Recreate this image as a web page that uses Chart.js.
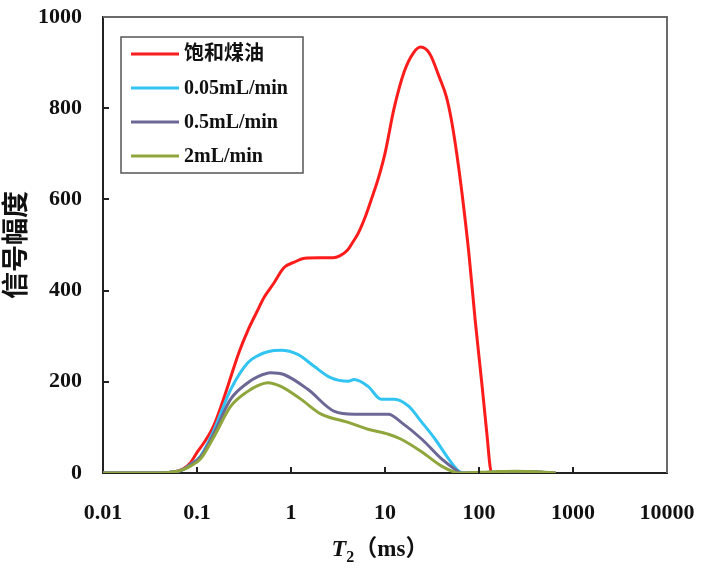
<!DOCTYPE html>
<html lang="zh">
<head>
  <meta charset="UTF-8" />
  <title>T2 谱</title>
  <script src="https://cdn.jsdelivr.net/npm/chart.js"></script>
  <style>
    html, body { margin: 0; padding: 0; background: #fff; }
    .wrap { width: 706px; height: 569px; position: relative; }
  </style>
</head>
<body>
  <div class="wrap">
    <canvas id="t2Chart"></canvas>
  </div>

  <script>
    // series names (legend order)
    const seriesNames = ['饱和煤油', '0.05mL/min', '0.5mL/min', '2mL/min'];
    const seriesColors = ['#fc1c1c', '#31c4f3', '#6c6896', '#8fa63c'];

    // x tick labels (T2, ms)
    const xTicks = [0.01, 0.1, 1, 10, 100, 1000, 10000];
    const yTicks = [0, 200, 400, 600, 800, 1000];

    // 饱和煤油
    const satT2 = [0.01, 0.04, 0.055, 0.07, 0.085, 0.1, 0.12, 0.15, 0.19, 0.23, 0.28, 0.35, 0.43, 0.52, 0.65, 0.84, 1.1, 1.4, 2, 2.8, 3.3, 4, 4.5, 5.2, 6.2, 7.3, 8.6, 10, 12.5, 16, 20, 24, 30, 38, 45, 51, 58, 66, 78, 91, 108, 122, 131, 136, 200, 400, 650];
    const satAmp = [0, 0, 2, 8, 22, 45, 68, 103, 160, 212, 265, 314, 352, 386, 415, 450, 463, 471, 472, 472, 476, 489, 505, 526, 563, 605, 650, 701, 800, 880, 921, 934, 919, 867, 825, 773, 700, 613, 482, 336, 190, 81, 15, 0, 2, 2, 0];

    // 0.05mL/min
    const q005T2 = [0.01, 0.04, 0.055, 0.07, 0.085, 0.109, 0.15, 0.228, 0.347, 0.45, 0.565, 0.78, 1.18, 1.76, 2.64, 4.07, 4.7, 6.6, 9.1, 12.6, 17.7, 24.7, 34.2, 47.5, 61, 70, 200, 400, 650];
    const q005Amp = [0, 0, 2, 7, 18, 37, 92, 183, 242, 258, 266, 269, 260, 234, 209, 201, 205, 190, 162, 162, 147, 111, 74, 31, 4, 0, 2, 2, 0];

    // 0.5mL/min
    const q05T2 = [0.01, 0.04, 0.055, 0.07, 0.085, 0.109, 0.15, 0.228, 0.347, 0.45, 0.61, 0.84, 1.52, 2.9, 4.7, 10.9, 14.9, 24.7, 40, 55, 65, 200, 400, 650];
    const q05Amp = [0, 0, 2, 7, 17, 35, 85, 162, 198, 212, 220, 216, 183, 135, 129, 129, 111, 74, 31, 9, 0, 2, 2, 0];

    // 2mL/min
    const q2T2 = [0.01, 0.04, 0.055, 0.07, 0.085, 0.109, 0.15, 0.228, 0.347, 0.45, 0.565, 0.78, 1.27, 2.1, 4.07, 6.6, 10.9, 14.9, 24.7, 40, 55, 62, 150, 250, 400, 650];
    const q2Amp = [0, 0, 2, 7, 15, 31, 78, 146, 179, 192, 198, 190, 162, 129, 111, 96, 85, 74, 46, 15, 2, 0, 3, 4, 3, 0];

    const seriesT2 = [satT2, q005T2, q05T2, q2T2];
    const seriesAmp = [satAmp, q005Amp, q05Amp, q2Amp];

    const SERIF = '"Liberation Serif", "Times New Roman", "Noto Sans CJK SC", serif';

    // frame, inward tick marks, legend box and x title
    const decorPlugin = {
      id: 'decor',
      afterDraw(chart) {
        const ctx = chart.ctx;
        const area = chart.chartArea;
        const xs = chart.scales.x;
        const ys = chart.scales.y;
        ctx.save();

        // top + right frame
        ctx.strokeStyle = '#6a6a6a';
        ctx.lineWidth = 2;
        ctx.beginPath();
        ctx.moveTo(area.left, area.top);
        ctx.lineTo(area.right, area.top);
        ctx.lineTo(area.right, area.bottom);
        ctx.stroke();

        // tick marks pointing inward
        ctx.strokeStyle = '#222';
        ctx.lineWidth = 2;
        ctx.beginPath();
        xTicks.slice(1, -1).forEach(v => {
          const px = Math.round(xs.getPixelForValue(v));
          ctx.moveTo(px, area.bottom);
          ctx.lineTo(px, area.bottom - 6);
        });
        yTicks.slice(1, -1).forEach(v => {
          const py = Math.round(ys.getPixelForValue(v));
          ctx.moveTo(area.left, py);
          ctx.lineTo(area.left + 6, py);
        });
        ctx.stroke();

        // legend
        const lx = 121, ly = 37, lw = 182, lh = 136;
        ctx.fillStyle = '#fff';
        ctx.fillRect(lx, ly, lw, lh);
        ctx.strokeStyle = '#555';
        ctx.lineWidth = 1.5;
        ctx.strokeRect(lx, ly, lw, lh);
        ctx.font = 'bold 20px ' + SERIF;
        ctx.textBaseline = 'middle';
        ctx.textAlign = 'left';
        seriesNames.forEach((name, i) => {
          const rowY = 54 + i * 34;
          ctx.strokeStyle = seriesColors[i];
          ctx.lineWidth = 3;
          ctx.beginPath();
          ctx.moveTo(131, rowY);
          ctx.lineTo(179, rowY);
          ctx.stroke();
          ctx.fillStyle = '#111';
          ctx.fillText(name, 184, rowY + 1);
        });

        // x axis title: T2 (ms)
        const cx = 380;
        const baseY = 556;
        ctx.textBaseline = 'alphabetic';
        ctx.fillStyle = '#111';
        const tFont = 'italic bold 24px ' + SERIF;
        const subFont = 'bold 16px ' + SERIF;
        const unitFont = 'bold 23px ' + SERIF;
        const unitText = '（ms）';
        ctx.font = tFont; const wT = ctx.measureText('T').width;
        ctx.font = subFont; const wS = ctx.measureText('2').width;
        ctx.font = unitFont; const wU = ctx.measureText(unitText).width;
        let x0 = cx - (wT + wS + wU) / 2;
        ctx.font = tFont; ctx.fillText('T', x0, baseY);
        x0 += wT;
        ctx.font = subFont; ctx.fillText('2', x0, baseY + 6);
        x0 += wS;
        ctx.font = unitFont; ctx.fillText(unitText, x0, baseY);

        ctx.restore();
      }
    };

    const datasets = seriesNames.map((name, i) => ({
      label: name,
      data: seriesT2[i].map((t, k) => ({ x: t, y: seriesAmp[i][k] })),
      borderColor: seriesColors[i],
      backgroundColor: seriesColors[i],
      borderWidth: 3,
      pointRadius: 0,
      cubicInterpolationMode: 'monotone',
      fill: false,
      order: seriesNames.length - i
    }));

    new Chart(document.getElementById('t2Chart'), {
      type: 'line',
      data: { datasets: datasets },
      plugins: [decorPlugin],
      options: {
        responsive: true,
        maintainAspectRatio: false,
        animation: false,
        layout: { padding: { top: 17, right: 39, left: 0, bottom: 0 } },
        plugins: {
          legend: { display: false },
          tooltip: { enabled: false }
        },
        scales: {
          x: {
            type: 'logarithmic',
            min: 0.01,
            max: 10000,
            afterBuildTicks(scale) {
              scale.ticks = xTicks.map(v => ({ value: v }));
            },
            afterFit(scale) {
              scale.height = 96;
              scale.paddingLeft = 0;
              scale.paddingRight = 0;
            },
            grid: { display: false, drawTicks: false },
            border: { display: true, color: '#222', width: 2 },
            ticks: {
              autoSkip: false,
              maxRotation: 0,
              padding: 27,
              color: '#111',
              font: { family: SERIF, size: 22, weight: 'bold' },
              callback: v => String(v)
            },
            title: { display: false }
          },
          y: {
            min: 0,
            max: 1000,
            afterBuildTicks(scale) {
              scale.ticks = yTicks.map(v => ({ value: v }));
            },
            afterFit(scale) {
              scale.width = 103;
              scale.paddingTop = 0;
              scale.paddingBottom = 0;
            },
            grid: { display: false, drawTicks: false },
            border: { display: true, color: '#222', width: 2 },
            ticks: {
              padding: 21,
              color: '#111',
              font: { family: SERIF, size: 22, weight: 'bold' },
              callback: v => String(v)
            },
            title: {
              display: true,
              text: '信号幅度',
              color: '#111',
              font: { family: SERIF, size: 27, weight: 'bold' },
              padding: { top: 2, bottom: 0 }
            }
          }
        }
      }
    });
  </script>
</body>
</html>
